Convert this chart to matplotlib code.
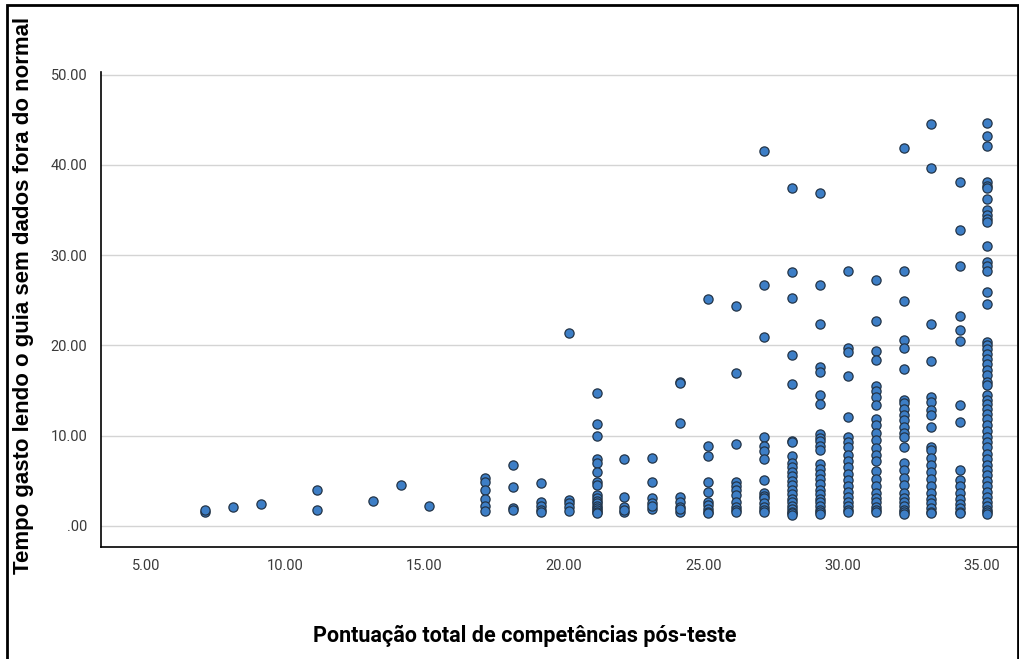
import matplotlib
matplotlib.use("Agg")
import matplotlib.pyplot as plt
from matplotlib.patches import Rectangle
import numpy as np

# Column positions (post-test total competence score)
score_cols = [7.12, 8.14, 9.14, 11.15, 13.15, 14.15, 15.15, 17.16, 18.16, 19.16,
              20.17, 21.17, 22.17, 23.17, 24.18, 25.18, 26.18, 27.19, 28.19, 29.19,
              30.2, 31.2, 32.2, 33.18, 34.2, 35.2]

# Time spent reading the guide, per column
time_vals = [
    [1.6, 1.8],
    [2.1],
    [2.4],
    [4.0, 1.8],
    [2.8],
    [4.5],
    [2.2],
    [5.3, 4.9, 4.0, 3.0, 2.2, 1.66],
    [6.75, 4.35, 1.96, 1.77],
    [4.8, 2.66, 2.2, 1.77, 1.5],
    [21.4, 2.88, 2.5, 2.14, 1.66],
    [14.7, 11.26, 9.97, 7.38, 6.94, 6.0, 4.9, 4.54, 3.4, 3.1, 2.8, 2.5, 2.2, 2.0, 1.8, 1.6, 1.45],
    [7.38, 3.25, 2.14, 1.58, 1.8],
    [7.5, 4.9, 3.07, 2.5, 1.85, 2.2],
    [16.0, 15.8, 11.37, 3.25, 2.7, 2.14, 1.58, 1.9],
    [25.1, 8.9, 7.75, 4.83, 3.8, 2.7, 2.3, 1.9, 1.6, 1.4],
    [24.4, 16.9, 9.08, 4.9, 4.43, 3.99, 3.43, 2.7, 2.14, 1.77, 1.5],
    [41.6, 26.7, 20.96, 9.82, 8.9, 8.34, 7.42, 5.1, 3.6, 3.3, 3.07, 2.5, 2.1, 1.77, 1.5],
    [37.4, 28.1, 25.3, 18.9, 15.7, 9.4, 9.3, 7.8, 7.0, 6.5, 6.0, 5.5, 5.0, 4.5, 4.0,
     3.5, 3.0, 2.6, 2.2, 1.9, 1.6, 1.4, 1.2],
    [36.9, 26.7, 22.4, 17.6, 17.1, 14.5, 13.5, 10.2, 9.8, 9.4, 8.9, 8.4, 6.9, 6.3, 5.8,
     5.2, 4.6, 4.0, 3.5, 3.0, 2.6, 2.2, 1.8, 1.5, 1.3],
    [28.3, 19.7, 19.3, 16.6, 12.1, 9.9, 9.3, 8.7, 7.9, 7.2, 6.5, 5.8, 5.1, 4.4, 3.8,
     3.2, 2.7, 2.2, 1.8, 1.5],
    [27.2, 22.7, 19.4, 18.4, 15.5, 15.0, 14.3, 13.4, 11.9, 11.2, 10.3, 9.5, 8.6, 7.9,
     7.2, 6.1, 5.2, 4.4, 3.7, 3.1, 2.6, 2.1, 1.8, 1.5],
    [41.9, 28.2, 24.9, 20.6, 19.7, 17.35, 14.0, 13.6, 13.0, 12.3, 11.7, 11.0, 10.3, 9.9,
     8.8, 7.0, 6.2, 5.3, 4.5, 3.7, 3.1, 2.6, 2.2, 1.8, 1.5, 1.3],
    [44.5, 39.7, 22.4, 18.3, 14.25, 13.7, 12.8, 12.3, 11.0, 8.8, 8.4, 7.5, 6.8, 6.0,
     5.2, 4.4, 3.6, 3.0, 2.5, 2.0, 1.6, 1.4],
    [38.1, 32.8, 28.8, 23.3, 21.7, 20.5, 13.4, 11.55, 6.2, 5.1, 4.4, 3.6, 3.0, 2.4,
     2.0, 1.6, 1.4],
    [44.7, 43.2, 42.1, 38.1, 37.7, 37.4, 36.2, 35.0, 34.5, 34.0, 33.7, 31.0, 29.2, 28.8,
     28.2, 25.9, 24.6, 20.4, 20.0, 19.6, 19.0, 18.5, 18.0, 17.3, 16.7, 16.0, 15.6, 14.5,
     14.0, 13.5, 13.0, 12.4, 11.8, 11.2, 10.5, 9.9, 9.3, 8.7, 8.0, 7.4, 6.8, 6.2, 5.6,
     5.0, 4.4, 3.8, 3.2, 2.7, 2.2, 1.8, 1.5, 1.3],
]

x_ticks = [5, 10, 15, 20, 25, 30, 35]
x_tick_labels = ["5.00", "10.00", "15.00", "20.00", "25.00", "30.00", "35.00"]
y_ticks = [0, 10, 20, 30, 40, 50]
y_tick_labels = [".00", "10.00", "20.00", "30.00", "40.00", "50.00"]

x_label = "Pontuação total de competências pós-teste"
y_label = "Tempo gasto lendo o guia sem dados fora do normal"

plt.rcParams['font.family'] = ['Roboto', 'DejaVu Sans']

xs = np.concatenate([[c] * len(v) for c, v in zip(score_cols, time_vals)])
ys = np.concatenate([v for v in time_vals])

fig = plt.figure(figsize=(10.19, 6.59), dpi=100)
ax = fig.add_axes([0.0991, 0.170, 0.8989, 0.7207])

ax.set_xlim(3.385, 36.26)
ax.set_ylim(-2.33, 50.3)

ax.grid(axis='y', color='#d4d4d4', linewidth=1.0)
ax.set_axisbelow(True)

ax.scatter(xs, ys, s=44, facecolor='#3d7ec6', edgecolor='#233447',
           linewidth=0.9, zorder=3)

for side in ['top', 'right']:
    ax.spines[side].set_visible(False)
for side in ['left', 'bottom']:
    ax.spines[side].set_color('black')
    ax.spines[side].set_linewidth(1.2)

ax.set_xticks(x_ticks)
ax.set_xticklabels(x_tick_labels)
ax.set_yticks(y_ticks)
ax.set_yticklabels(y_tick_labels)
ax.tick_params(axis='both', length=0, labelsize=10.5, colors='#3a3a3a')
ax.tick_params(axis='x', pad=9)
ax.tick_params(axis='y', pad=10)

fig.text(0.515, 0.035, x_label, ha='center', va='center',
         fontsize=15.5, fontweight='bold', color='black')
fig.text(0.0235, 0.552, y_label, ha='center', va='center', rotation=90,
         fontsize=16, fontweight='bold', color='black',
         family=['Liberation Sans', 'DejaVu Sans'])

fig.patches.append(Rectangle((7 / 1019, -0.01), 1010.5 / 1019, 1.0024,
                             transform=fig.transFigure, fill=False,
                             edgecolor='black', linewidth=2.0))

fig.savefig("out.png", dpi=100)
